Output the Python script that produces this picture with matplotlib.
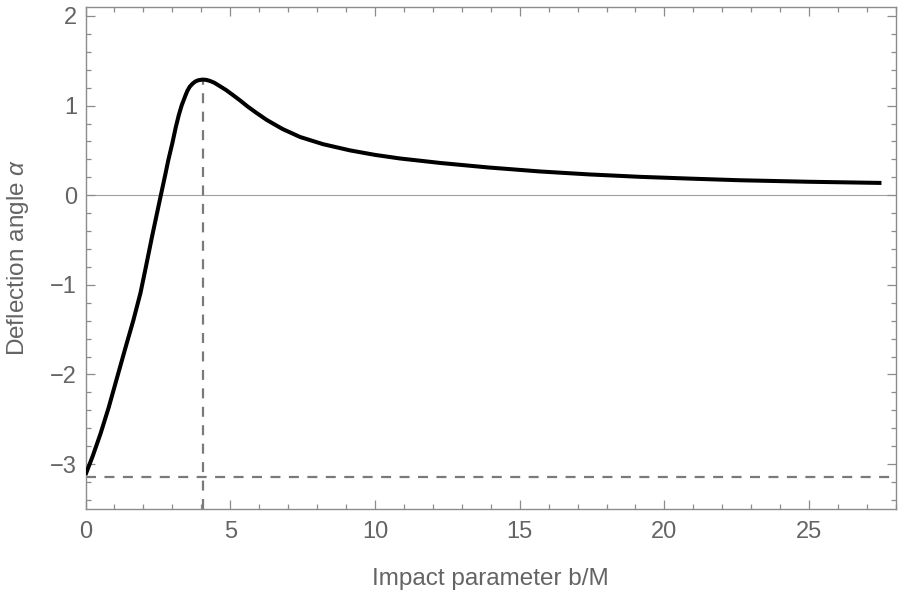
import matplotlib
matplotlib.use("Agg")
from matplotlib import pyplot as plt
from matplotlib.ticker import MultipleLocator
import numpy as np

# values
impact_b = [0, 0.25, 0.52, 0.8, 1.13, 1.4, 1.65, 1.9, 2.08, 2.3, 2.57, 2.75,
            2.86, 3.0, 3.12, 3.22, 3.32, 3.45, 3.52, 3.6, 3.7, 3.8, 3.9, 4.04,
            4.17, 4.3, 4.45, 4.6, 4.85, 5.1, 5.35, 5.6, 5.9, 6.26, 6.8, 7.41,
            8.2, 9.14, 10.0, 10.86, 12.25, 13.9, 15.7, 17.4, 19.16, 20.9,
            22.6, 25.0, 27.5]
deflection = [-3.12, -2.91, -2.66, -2.37, -1.99, -1.68, -1.40, -1.09, -0.81,
              -0.46, -0.05, 0.22, 0.39, 0.58, 0.76, 0.89, 1.0, 1.11, 1.165,
              1.21, 1.245, 1.27, 1.283, 1.29, 1.287, 1.275, 1.255, 1.225,
              1.175, 1.116, 1.055, 0.99, 0.92, 0.84, 0.74, 0.65, 0.57, 0.50,
              0.45, 0.41, 0.36, 0.31, 0.265, 0.232, 0.205, 0.185, 0.167,
              0.15, 0.137]
b_peak = 4.05
alpha_limit = -np.pi

x_ticks = [0, 5, 10, 15, 20, 25]
y_ticks = [-3, -2, -1, 0, 1, 2]

frame_col = "#8c8c8c"
text_col = "#646464"

plt.rcParams["font.family"] = ["Liberation Sans", "DejaVu Sans"]
plt.rcParams["mathtext.fontset"] = "custom"
plt.rcParams["mathtext.it"] = "Liberation Sans:italic"
plt.rcParams["mathtext.rm"] = "Liberation Sans"

fig = plt.figure(figsize=(9, 5.98), dpi=100)
ax = fig.add_axes([0.095, 0.149, 0.9005, 0.8393])

ax.axhline(0, color="#a0a0a0", lw=0.8, zorder=1)
ax.axhline(alpha_limit, color="#7a7a7a", lw=1.6, ls=(0, (4.5, 3.8)), zorder=2)
ax.plot([b_peak, b_peak], [-3.5, max(deflection)], color="#7a7a7a", lw=1.6,
        ls=(0, (4.5, 3.8)), zorder=2)
ax.plot(impact_b, deflection, color="black", lw=2.9, solid_joinstyle="round",
        solid_capstyle="butt", zorder=3)

ax.set_xlim(0, 28)
ax.set_ylim(-3.5, 2.1)
ax.set_xticks(x_ticks)
ax.set_yticks(y_ticks)
ax.xaxis.set_minor_locator(MultipleLocator(1))
ax.yaxis.set_minor_locator(MultipleLocator(0.2))

for s in ax.spines.values():
    s.set_color(frame_col)
    s.set_linewidth(1.0)

ax.tick_params(which="both", direction="in", top=True, right=True,
               color=frame_col, width=0.9)
ax.tick_params(which="major", length=6.5, labelsize=17, labelcolor=text_col)
ax.tick_params(which="minor", length=3.6)
ax.tick_params(axis="y", which="major", pad=6)
ax.tick_params(axis="x", which="major", pad=9)

ax.set_xlabel("Impact parameter b/M", fontsize=17.5, color=text_col, labelpad=18)
ax.set_ylabel(r"Deflection angle $\alpha$", fontsize=17.5, color=text_col,
              labelpad=14)

fig.savefig("out.png", dpi=100)
